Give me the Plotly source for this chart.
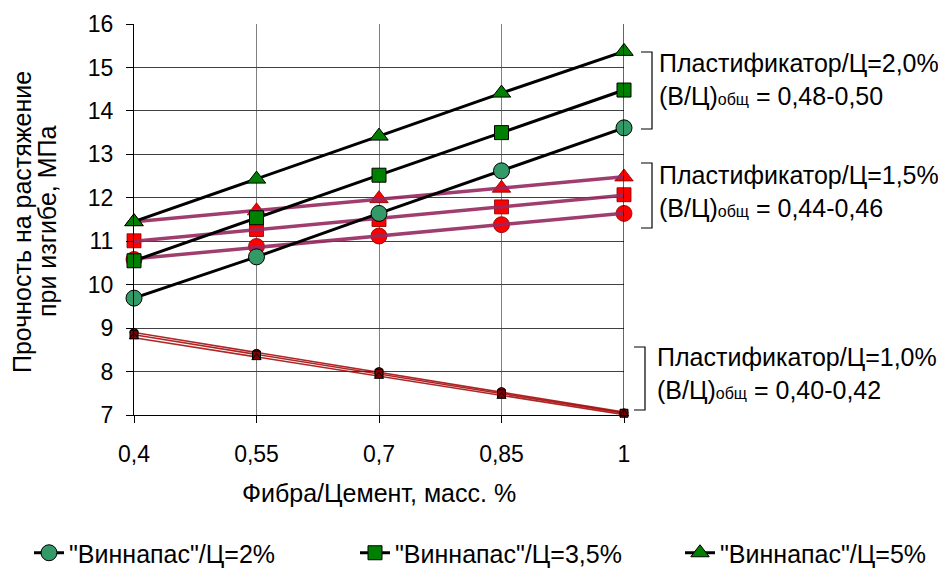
import numpy as np
import plotly.graph_objects as go

# ---- data ----
fiber = [0.4, 0.55, 0.7, 0.85, 1.0]
x_ticktext = ["0,4", "0,55", "0,7", "0,85", "1"]

# Plasticizer/C = 2.0 %
v2_p20 = [9.69, 10.64, 11.64, 12.62, 13.61]
v35_p20 = [10.55, 11.54, 12.52, 13.50, 14.48]
v5_p20 = [11.45, 12.43, 13.42, 14.41, 15.37]

# Plasticizer/C = 1.5 %
v2_p15 = [10.58, 10.88, 11.12, 11.38, 11.64]
v35_p15 = [11.01, 11.27, 11.50, 11.79, 12.07]
v5_p15 = [11.45, 11.70, 11.98, 12.22, 12.48]

# Plasticizer/C = 1.0 %
v2_p10 = [8.90, 8.42, 8.00, 7.54, 7.05]
v35_p10 = [8.85, 8.38, 7.96, 7.49, 7.04]
v5_p10 = [8.80, 8.32, 7.89, 7.43, 7.03]

legend_names = ['"Виннапас"/Ц=2%', '"Виннапас"/Ц=3,5%', '"Виннапас"/Ц=5%']

FONT = "Liberation Sans, Arial, sans-serif"
FS = 25      # titles, legend, notes
FT = 23      # tick labels

# geometry: the page places the figure at (8, 8)
OFF = 8
W, H = 946 - OFF, 569 - OFF
L, T = 134 - OFF, 24 - OFF
R, B = W - (624 - OFF), H - (415 - OFF)
PW, PH = W - L - R, H - T - B


def px(xp):  # reference pixel x -> paper
    return (xp - OFF - L) / PW


def py(yp):  # reference pixel y -> paper
    return (H - B - (yp - OFF)) / PH


fig = go.Figure()
xa = np.array(fiber)


def trend(y):
    k, b = np.polyfit(xa, np.array(y), 1)
    return (k * xa + b).tolist()


# Plasticizer 1.0 % : dark red small markers + thin trend lines
for y in [v2_p10, v35_p10, v5_p10]:
    fig.add_trace(go.Scatter(x=fiber, y=trend(y), mode="lines",
                             line=dict(color="rgba(160,0,0,0.85)", width=1.6),
                             showlegend=False, hoverinfo="skip", cliponaxis=False))
for y, sym in [(v2_p10, "circle"), (v35_p10, "square"), (v5_p10, "triangle-up")]:
    fig.add_trace(go.Scatter(x=fiber, y=y, mode="markers",
                             marker=dict(symbol=sym, size=8, color="#800000",
                                         line=dict(color="black", width=1)),
                             showlegend=False, cliponaxis=False))

# Plasticizer 1.5 % : red markers + purple trend lines
for y, sym, sz in [(v2_p15, "circle", 16), (v35_p15, "square", 14), (v5_p15, "triangle-up", 16)]:
    fig.add_trace(go.Scatter(x=fiber, y=y, mode="markers",
                             marker=dict(symbol=sym, size=sz, color="#FF0000",
                                         line=dict(color="#800000", width=0.8)),
                             showlegend=False, cliponaxis=False))
for y in [v2_p15, v35_p15, v5_p15]:
    fig.add_trace(go.Scatter(x=fiber, y=trend(y), mode="lines",
                             line=dict(color="rgba(150,40,95,0.9)", width=3.5),
                             showlegend=False, hoverinfo="skip", cliponaxis=False))

# Plasticizer 2.0 % : green markers with black lines (legend)
specs = [(v2_p20, "circle", 16, "#339966", legend_names[0], "legend"),
         (v35_p20, "square", 14, "#008000", legend_names[1], "legend2"),
         (v5_p20, "triangle-up", 16, "#008000", legend_names[2], "legend3")]
for y, sym, sz, col, name, lg in specs:
    fig.add_trace(go.Scatter(x=fiber, y=y, mode="lines+markers", name=name, legend=lg,
                             line=dict(color="black", width=3),
                             marker=dict(symbol=sym, size=sz, color=col,
                                         line=dict(color="black", width=1)),
                             cliponaxis=False))

# brackets
shapes = []
for top, bot, xv, xh in [(52, 129, 652, 641), (163, 228, 652, 641), (347, 410, 645, 634)]:
    path = f"M {px(xh)} {py(top)} L {px(xv)} {py(top)} L {px(xv)} {py(bot)} L {px(xh)} {py(bot)}"
    shapes.append(dict(type="path", xref="paper", yref="paper", path=path,
                       line=dict(color="black", width=1.2)))
shapes.append(dict(type="line", xref="x", yref="paper", x0=1, x1=1, y0=0, y1=1,
                   line=dict(color="black", width=1.2)))

sub = "<span style='font-size:16px'>общ</span>"
annotations = [
    dict(x=px(657), y=py(79), text="Пластификатор/Ц=2,0%<br>(В/Ц)" + sub + " = 0,48-0,50"),
    dict(x=px(657), y=py(192), text="Пластификатор/Ц=1,5%<br>(В/Ц)" + sub + " = 0,44-0,46"),
    dict(x=px(655), y=py(373), text="Пластификатор/Ц=1,0%<br>(В/Ц)" + sub + " = 0,40-0,42"),
]
for a in annotations:
    a.update(xref="paper", yref="paper", xanchor="left", yanchor="middle",
             showarrow=False, align="left", font=dict(family=FONT, size=FS, color="black"))

for xp, txt in [(22, "Прочность на растяжение"), (47, "при изгибе, МПа")]:
    annotations.append(dict(xref="paper", yref="paper", x=px(xp), y=py(222), textangle=-90,
                            text=txt, showarrow=False, xanchor="center", yanchor="middle",
                            font=dict(family=FONT, size=FS, color="black")))
annotations.append(dict(xref="paper", yref="paper", x=px(379), y=py(493),
                        text="Фибра/Цемент, масс. %", showarrow=False,
                        xanchor="center", yanchor="middle",
                        font=dict(family=FONT, size=FS, color="black")))

legend_common = dict(orientation="h", xref="container", yref="container",
                     xanchor="left", yanchor="middle", y=(569 - 553) / H,
                     font=dict(family=FONT, size=FS, color="black"),
                     itemwidth=30, bgcolor="rgba(0,0,0,0)", borderwidth=0)

fig.update_layout(
    width=W, height=H,
    margin=dict(l=L, r=R, t=T, b=B, autoexpand=False),
    paper_bgcolor="white", plot_bgcolor="white",
    font=dict(family=FONT, size=FS, color="black"),
    shapes=shapes, annotations=annotations,
    legend=dict(legend_common, x=(29 - OFF) / W),
    legend2=dict(legend_common, x=(355 - OFF) / W),
    legend3=dict(legend_common, x=(680 - OFF) / W),
    showlegend=True,
)

fig.update_xaxes(range=[0.4, 1.0], tickvals=fiber, ticktext=x_ticktext,
                 showgrid=True, gridcolor="#808080", gridwidth=1,
                 showline=True, linecolor="black", linewidth=1.2,
                 ticks="outside", ticklen=7, tickcolor="black",
                 ticklabelstandoff=11, zeroline=False,
                 tickfont=dict(family=FONT, size=FT, color="black"))
fig.update_yaxes(range=[7, 16], dtick=1, tick0=7,
                 showgrid=True, gridcolor="#404040", gridwidth=1,
                 showline=True, linecolor="black", linewidth=1.2,
                 ticks="outside", ticklen=7, tickcolor="black",
                 ticklabelstandoff=8, zeroline=False,
                 tickfont=dict(family=FONT, size=FT, color="black"))

fig.write_html("out.html")
